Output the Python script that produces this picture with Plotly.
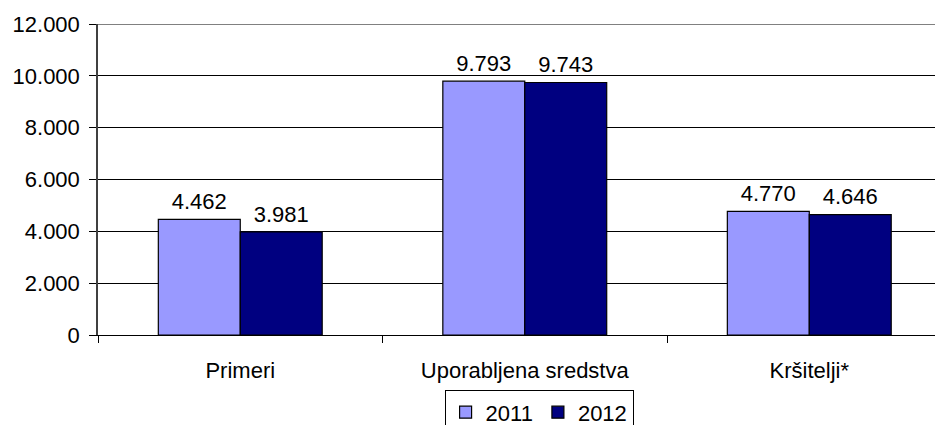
import plotly.graph_objects as go

categories = ["Primeri", "Uporabljena sredstva", "Kršitelji*"]
values_2011 = [4462, 9793, 4770]
values_2012 = [3981, 9743, 4646]
y_ticks = [0, 2000, 4000, 6000, 8000, 10000, 12000]
series = [("2011", values_2011, "#9999FF"), ("2012", values_2012, "#000080")]

FONT = "Liberation Sans, Arial, sans-serif"
FS = 22

fig = go.Figure()
for name, vals, col in series:
    fig.add_trace(go.Bar(
        name=name, x=categories, y=vals, offsetgroup=name,
        marker=dict(color=col, line=dict(color="black", width=1.2)),
    ))
for name, vals, col in series:
    fig.add_trace(go.Scatter(
        x=categories, y=vals, offsetgroup=name, mode="markers+text",
        text=[f"{v:,}".replace(",", ".") for v in vals],
        textposition="top center",
        marker=dict(size=6, opacity=0),
        textfont=dict(size=FS, color="black", family=FONT),
        showlegend=False, hoverinfo="skip", cliponaxis=False,
    ))

fig.add_shape(type="line", xref="paper", yref="y", x0=0, x1=1, y0=12000, y1=12000,
              line=dict(color="#808080", width=2))

fig.update_layout(
    width=935, height=440,
    margin=dict(l=90, r=0, t=15.5, b=112.5),
    paper_bgcolor="white", plot_bgcolor="white",
    separators=",.",
    barmode="group", bargap=0.424, bargroupgap=0,
    scattermode="group", scattergap=0.424,
    font=dict(family=FONT, size=FS, color="black"),
    showlegend=True,
    legend=dict(orientation="h", x=0.522, xanchor="center", y=-0.178, yanchor="top",
                bordercolor="black", borderwidth=1, font=dict(size=FS, family=FONT),
                itemwidth=30, tracegroupgap=0),
    xaxis=dict(range=[-0.5, 2.47], showline=True, linecolor="black", linewidth=1,
               ticks="outside", tickson="boundaries", ticklen=7, tickcolor="black",
               ticklabelstandoff=16, showgrid=False, tickfont=dict(size=FS)),
    yaxis=dict(range=[0, 12000], tickvals=y_ticks, tickformat=",d",
               showline=True, linecolor="#404040", linewidth=1.5,
               ticks="outside", ticklen=7, tickcolor="black", ticklabelstandoff=5,
               showgrid=True, gridcolor="black", gridwidth=1, zeroline=False,
               tickfont=dict(size=FS)),
)

fig.write_html("out.html")
